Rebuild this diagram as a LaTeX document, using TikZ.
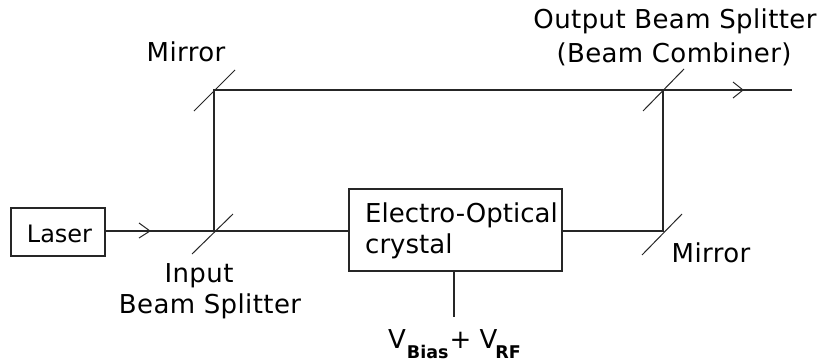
\documentclass[tikz,border=0pt]{standalone}
\usepackage{fontspec}
\setmainfont{DejaVu Sans}
\usetikzlibrary{arrows.meta}
\newfontfamily\spaced[LetterSpace=1.5]{DejaVu Sans}
\tikzset{
  x=1pt,y=-1pt,
  beam/.style={draw=black!85,line width=1.4pt},
  thin beam/.style={draw=black!85,line width=1pt},
  box/.style={draw=black!85,line width=1.4pt,fill=white,inner sep=0pt},
  lbl/.style={inner sep=0pt,text=black,font=\spaced\fontsize{26}{31}\selectfont,anchor=base},
  lblb/.style={inner sep=0pt,text=black,font=\fontsize{26}{31}\selectfont,anchor=base west},
  tip/.style={draw=black!85,line width=1pt}
}
\begin{document}
\begin{tikzpicture}
\useasboundingbox (0,0) rectangle (821,362);
\node[box,minimum width=94pt,minimum height=48pt] (laser) at (58,232) {};
\node[inner sep=0pt,text=black,anchor=base,font=\fontsize{24}{28}\selectfont] (lasertext) at (59.5,242) {Laser};
\node[box,minimum width=213pt,minimum height=82pt] (eo) at (455.5,230) {};
\coordinate (bs) at (214,231);
\coordinate (mt) at (214,90);
\coordinate (os) at (663,90);
\coordinate (mb) at (663,231);
\coordinate (out) at (792,90);
\coordinate (v) at (454,317);
\draw[beam] (laser.east |- bs) -- (bs) -- (mt) -- (os) -- (out);
\draw[beam] (bs) -- (eo.west |- bs);
\draw[beam] (eo.east |- mb) -- (mb) -- (os);
\draw[beam] (eo.south -| v) -- (v);
\draw[thin beam] (192,254) -- (233,214);
\draw[thin beam] (194,111) -- (235,70);
\draw[thin beam] (643,111) -- (684,69);
\draw[thin beam] (642,255) -- (682,214);
\draw[tip] (139,223) -- (150,231) -- (139,238);
\draw[tip] (733,82) -- (743,90) -- (733,98);
\node[lbl] (m1) at (186,61) {Mirror};
\node[lbl] (o1) at (675,28) {Output Beam Splitter};
\node[lbl] (o2) at (674,62) {(Beam Combiner)};
\node[lbl] (i1) at (199,282) {Input};
\node[lbl] (i2) at (210,313) {Beam Splitter};
\node[lbl] (m2) at (711,262) {Mirror};
\node[lblb] (e1) at (365,222) {Electro-Optical};
\node[lblb] (e2) at (365,253) {crystal};
\node[inner sep=0pt,text=black,anchor=base west,font=\fontsize{26}{31}\selectfont] (vt) at (388,348) {V\kern1pt\raisebox{-10pt}{\fontsize{17.5}{20}\selectfont\bfseries Bias}\kern1pt+ \kern0ptV\kern-2pt\raisebox{-10pt}{\fontsize{17.5}{20}\selectfont\bfseries RF}};
\end{tikzpicture}
\end{document}
